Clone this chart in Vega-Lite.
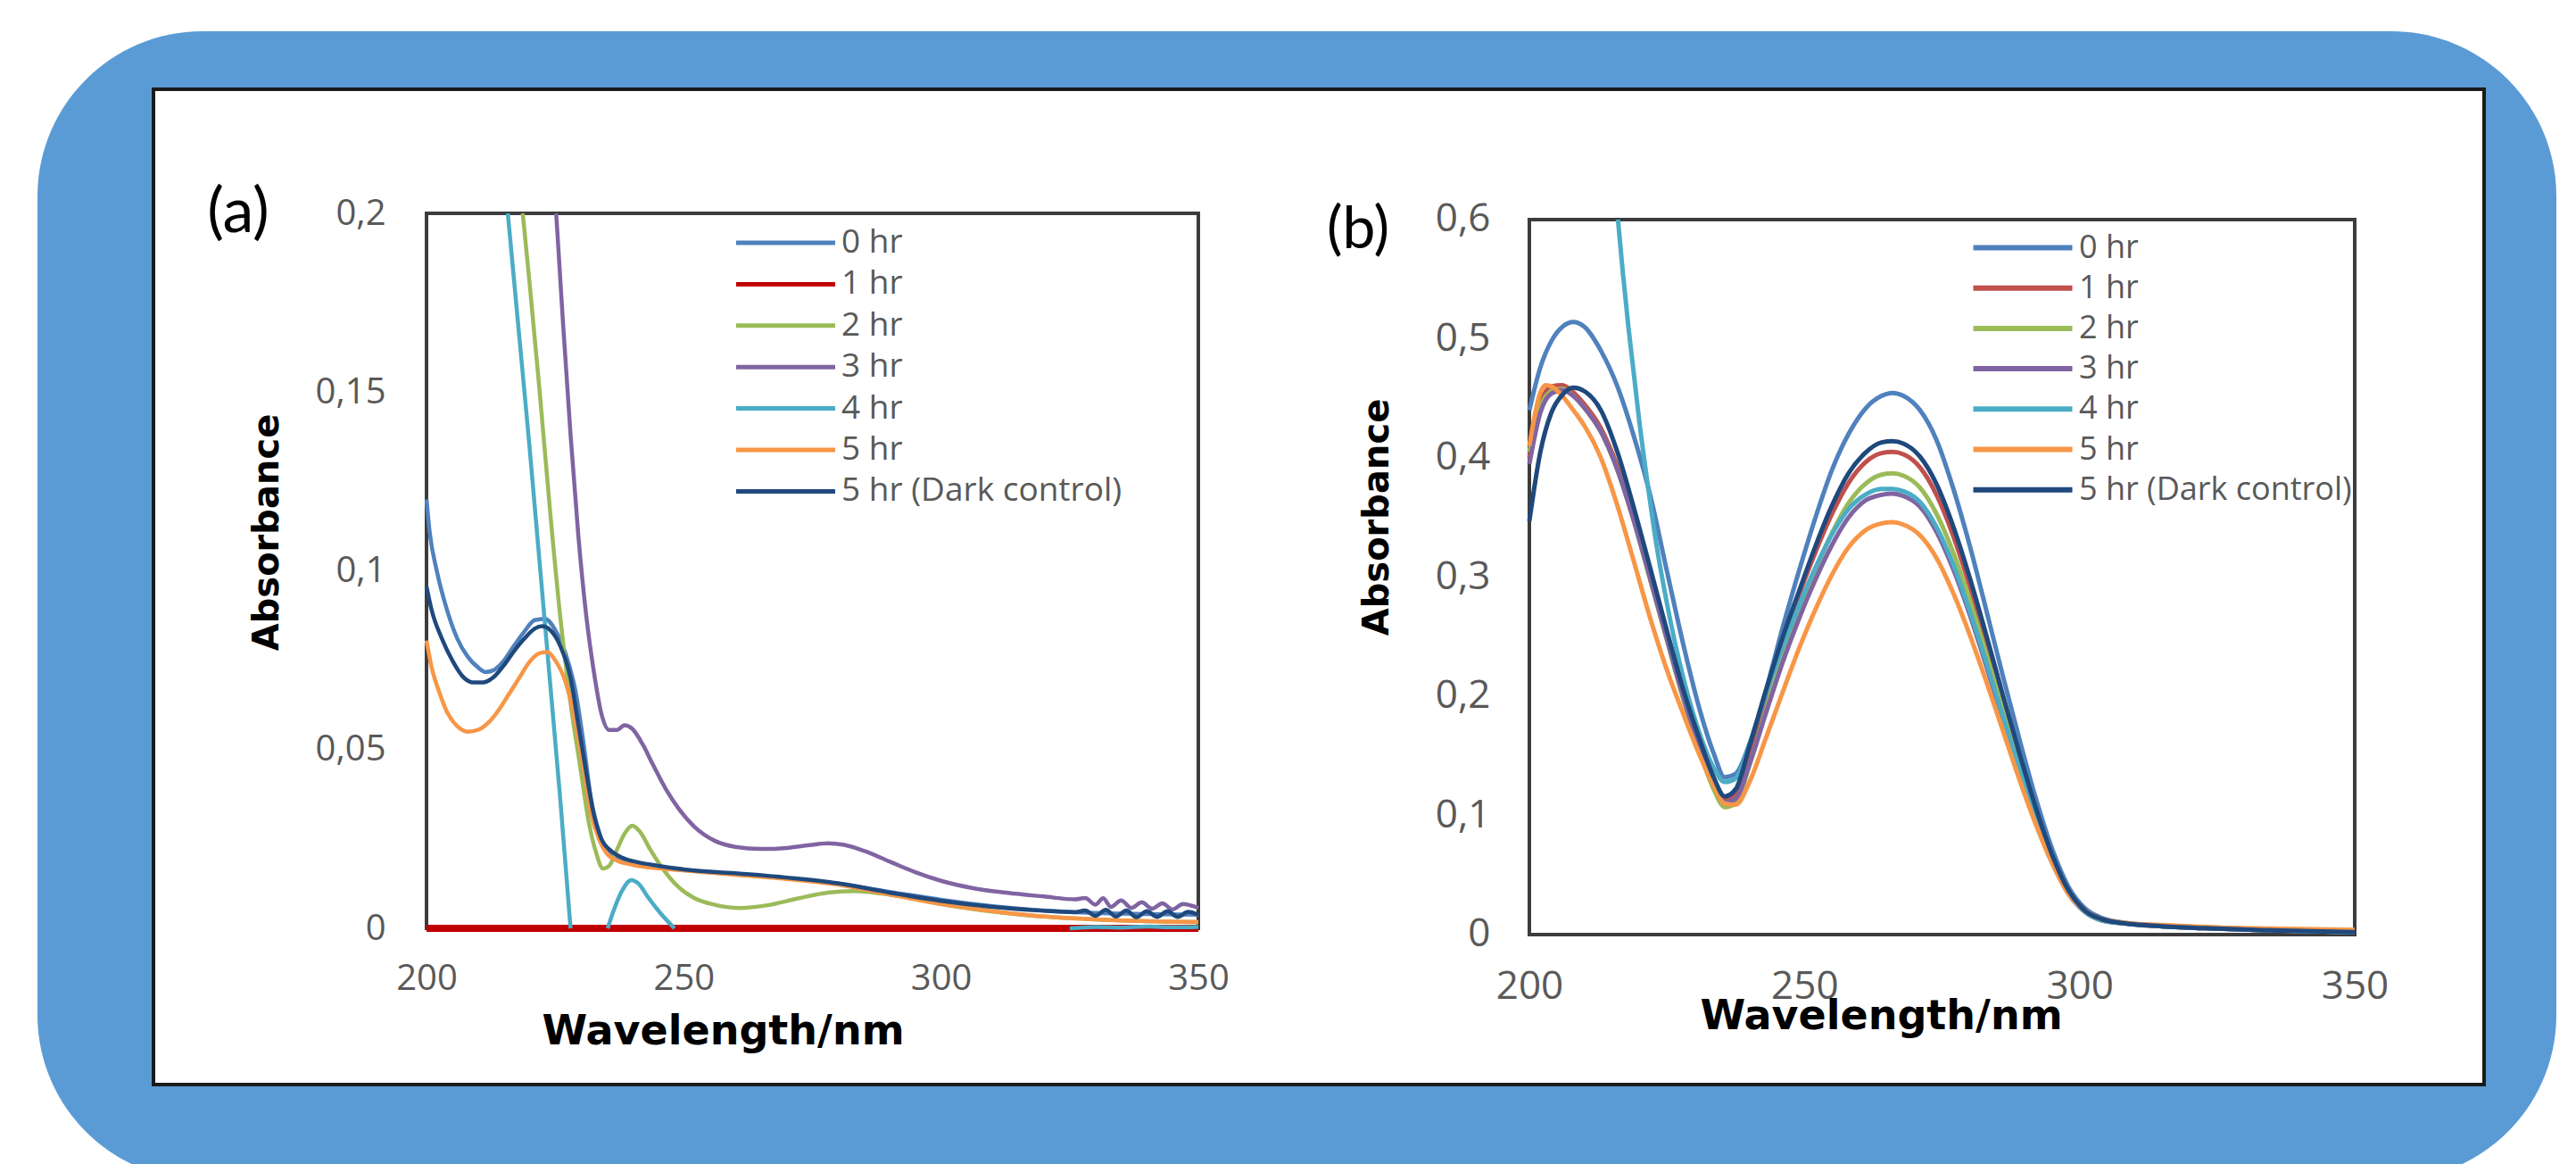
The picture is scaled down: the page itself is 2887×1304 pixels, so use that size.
{
"$schema": "https://vega.github.io/schema/vega-lite/v6.json",
"width": 2612, "height": 1115,
"autosize": {"type": "none"},
"padding": {"left": 172, "top": 100, "right": 103, "bottom": 89},
"background": "#ffffff",
"config": {"view": {"fill": null, "stroke": null}},
"datasets": {
"a": [
{"series":"1 hr","wavelength":200,"absorbance":0},{"series":"1 hr","wavelength":350,"absorbance":0},
{"series":"0 hr","wavelength":200,"absorbance":0.120},{"series":"0 hr","wavelength":200.6,"absorbance":0.111},{"series":"0 hr","wavelength":202,"absorbance":0.100},{"series":"0 hr","wavelength":204,"absorbance":0.089},{"series":"0 hr","wavelength":206,"absorbance":0.081},{"series":"0 hr","wavelength":208,"absorbance":0.076},{"series":"0 hr","wavelength":210,"absorbance":0.073},{"series":"0 hr","wavelength":211.5,"absorbance":0.0717},{"series":"0 hr","wavelength":213,"absorbance":0.0722},{"series":"0 hr","wavelength":215,"absorbance":0.0748},{"series":"0 hr","wavelength":217,"absorbance":0.079},{"series":"0 hr","wavelength":219,"absorbance":0.083},{"series":"0 hr","wavelength":221,"absorbance":0.0862},{"series":"0 hr","wavelength":223,"absorbance":0.0866},{"series":"0 hr","wavelength":225,"absorbance":0.0835},{"series":"0 hr","wavelength":227,"absorbance":0.077},{"series":"0 hr","wavelength":229,"absorbance":0.066},{"series":"0 hr","wavelength":230.5,"absorbance":0.052},{"series":"0 hr","wavelength":232,"absorbance":0.036},{"series":"0 hr","wavelength":233.5,"absorbance":0.027},{"series":"0 hr","wavelength":235,"absorbance":0.0215},{"series":"0 hr","wavelength":237,"absorbance":0.0195},{"series":"0 hr","wavelength":240,"absorbance":0.018},{"series":"0 hr","wavelength":245,"absorbance":0.017},{"series":"0 hr","wavelength":250,"absorbance":0.0163},{"series":"0 hr","wavelength":260,"absorbance":0.0152},{"series":"0 hr","wavelength":270,"absorbance":0.014},{"series":"0 hr","wavelength":280,"absorbance":0.0125},{"series":"0 hr","wavelength":290,"absorbance":0.0102},{"series":"0 hr","wavelength":300,"absorbance":0.008},{"series":"0 hr","wavelength":310,"absorbance":0.0062},{"series":"0 hr","wavelength":320,"absorbance":0.005},{"series":"0 hr","wavelength":330,"absorbance":0.0043},{"series":"0 hr","wavelength":340,"absorbance":0.004},{"series":"0 hr","wavelength":350,"absorbance":0.0038},
{"series":"2 hr","wavelength":218.7,"absorbance":0.2},{"series":"2 hr","wavelength":220,"absorbance":0.181},{"series":"2 hr","wavelength":222,"absorbance":0.150},{"series":"2 hr","wavelength":224,"absorbance":0.117},{"series":"2 hr","wavelength":226,"absorbance":0.087},{"series":"2 hr","wavelength":228,"absorbance":0.063},{"series":"2 hr","wavelength":230,"absorbance":0.044},{"series":"2 hr","wavelength":231.5,"absorbance":0.030},{"series":"2 hr","wavelength":233,"absorbance":0.021},{"series":"2 hr","wavelength":234.3,"absorbance":0.0167},{"series":"2 hr","wavelength":235.5,"absorbance":0.0175},{"series":"2 hr","wavelength":237,"absorbance":0.022},{"series":"2 hr","wavelength":238.5,"absorbance":0.0265},{"series":"2 hr","wavelength":240,"absorbance":0.0287},{"series":"2 hr","wavelength":241.5,"absorbance":0.027},{"series":"2 hr","wavelength":243.5,"absorbance":0.022},{"series":"2 hr","wavelength":246,"absorbance":0.0165},{"series":"2 hr","wavelength":249,"absorbance":0.0115},{"series":"2 hr","wavelength":252,"absorbance":0.0085},{"series":"2 hr","wavelength":256,"absorbance":0.0066},{"series":"2 hr","wavelength":261,"absorbance":0.0057},{"series":"2 hr","wavelength":266,"absorbance":0.0064},{"series":"2 hr","wavelength":272,"absorbance":0.0083},{"series":"2 hr","wavelength":278,"absorbance":0.010},{"series":"2 hr","wavelength":283,"absorbance":0.0104},{"series":"2 hr","wavelength":288,"absorbance":0.0098},{"series":"2 hr","wavelength":294,"absorbance":0.0085},{"series":"2 hr","wavelength":300,"absorbance":0.0068},{"series":"2 hr","wavelength":310,"absorbance":0.0047},{"series":"2 hr","wavelength":320,"absorbance":0.0033},{"series":"2 hr","wavelength":330,"absorbance":0.0025},{"series":"2 hr","wavelength":340,"absorbance":0.002},{"series":"2 hr","wavelength":350,"absorbance":0.0017},
{"series":"3 hr","wavelength":225.2,"absorbance":0.2},{"series":"3 hr","wavelength":226.5,"absorbance":0.170},{"series":"3 hr","wavelength":228,"absorbance":0.138},{"series":"3 hr","wavelength":229.5,"absorbance":0.110},{"series":"3 hr","wavelength":231,"absorbance":0.088},{"series":"3 hr","wavelength":232.5,"absorbance":0.072},{"series":"3 hr","wavelength":234,"absorbance":0.060},{"series":"3 hr","wavelength":235.5,"absorbance":0.0555},{"series":"3 hr","wavelength":237,"absorbance":0.0555},{"series":"3 hr","wavelength":238.5,"absorbance":0.0568},{"series":"3 hr","wavelength":240,"absorbance":0.0558},{"series":"3 hr","wavelength":242,"absorbance":0.0515},{"series":"3 hr","wavelength":244,"absorbance":0.0458},{"series":"3 hr","wavelength":246.5,"absorbance":0.039},{"series":"3 hr","wavelength":249,"absorbance":0.0335},{"series":"3 hr","wavelength":252,"absorbance":0.0285},{"series":"3 hr","wavelength":256,"absorbance":0.0245},{"series":"3 hr","wavelength":260,"absorbance":0.0228},{"series":"3 hr","wavelength":265,"absorbance":0.0222},{"series":"3 hr","wavelength":270,"absorbance":0.0225},{"series":"3 hr","wavelength":274,"absorbance":0.0232},{"series":"3 hr","wavelength":278,"absorbance":0.0238},{"series":"3 hr","wavelength":281,"absorbance":0.0234},{"series":"3 hr","wavelength":285,"absorbance":0.0217},{"series":"3 hr","wavelength":290,"absorbance":0.0187},{"series":"3 hr","wavelength":295,"absorbance":0.0157},{"series":"3 hr","wavelength":300,"absorbance":0.0133},{"series":"3 hr","wavelength":306,"absorbance":0.0113},{"series":"3 hr","wavelength":313,"absorbance":0.0099},{"series":"3 hr","wavelength":320,"absorbance":0.0089},{"series":"3 hr","wavelength":326,"absorbance":0.0081},{"series":"3 hr","wavelength":328,"absorbance":0.0085},{"series":"3 hr","wavelength":330,"absorbance":0.0066},{"series":"3 hr","wavelength":331.5,"absorbance":0.0084},{"series":"3 hr","wavelength":333,"absorbance":0.006},{"series":"3 hr","wavelength":335,"absorbance":0.0078},{"series":"3 hr","wavelength":337,"absorbance":0.0057},{"series":"3 hr","wavelength":339,"absorbance":0.0073},{"series":"3 hr","wavelength":341,"absorbance":0.0055},{"series":"3 hr","wavelength":343,"absorbance":0.007},{"series":"3 hr","wavelength":345,"absorbance":0.0053},{"series":"3 hr","wavelength":347,"absorbance":0.0068},{"series":"3 hr","wavelength":350,"absorbance":0.0057},
{"series":"4 hr","seg":1,"wavelength":215.8,"absorbance":0.2},{"series":"4 hr","seg":1,"wavelength":218,"absorbance":0.166},{"series":"4 hr","seg":1,"wavelength":220,"absorbance":0.135},{"series":"4 hr","seg":1,"wavelength":222,"absorbance":0.102},{"series":"4 hr","seg":1,"wavelength":224,"absorbance":0.069},{"series":"4 hr","seg":1,"wavelength":226,"absorbance":0.036},{"series":"4 hr","seg":1,"wavelength":228,"absorbance":0},
{"series":"4 hr","seg":2,"wavelength":235.2,"absorbance":0},{"series":"4 hr","seg":2,"wavelength":236.5,"absorbance":0.0055},{"series":"4 hr","seg":2,"wavelength":238,"absorbance":0.0105},{"series":"4 hr","seg":2,"wavelength":239.8,"absorbance":0.0135},{"series":"4 hr","seg":2,"wavelength":241.2,"absorbance":0.0125},{"series":"4 hr","seg":2,"wavelength":243,"absorbance":0.0088},{"series":"4 hr","seg":2,"wavelength":245.5,"absorbance":0.0042},{"series":"4 hr","seg":2,"wavelength":248.2,"absorbance":0},
{"series":"4 hr","seg":3,"wavelength":325,"absorbance":0},{"series":"4 hr","seg":3,"wavelength":330,"absorbance":0.0004},{"series":"4 hr","seg":3,"wavelength":335,"absorbance":0.0002},{"series":"4 hr","seg":3,"wavelength":340,"absorbance":0.0005},{"series":"4 hr","seg":3,"wavelength":345,"absorbance":0.0003},{"series":"4 hr","seg":3,"wavelength":350,"absorbance":0.0004},
{"series":"5 hr","wavelength":200,"absorbance":0.0805},{"series":"5 hr","wavelength":201,"absorbance":0.073},{"series":"5 hr","wavelength":202.5,"absorbance":0.066},{"series":"5 hr","wavelength":204,"absorbance":0.0605},{"series":"5 hr","wavelength":206,"absorbance":0.0565},{"series":"5 hr","wavelength":208,"absorbance":0.055},{"series":"5 hr","wavelength":210,"absorbance":0.0555},{"series":"5 hr","wavelength":212,"absorbance":0.0575},{"series":"5 hr","wavelength":214,"absorbance":0.061},{"series":"5 hr","wavelength":216,"absorbance":0.0655},{"series":"5 hr","wavelength":218,"absorbance":0.070},{"series":"5 hr","wavelength":220,"absorbance":0.0745},{"series":"5 hr","wavelength":222,"absorbance":0.077},{"series":"5 hr","wavelength":223.5,"absorbance":0.0773},{"series":"5 hr","wavelength":225,"absorbance":0.075},{"series":"5 hr","wavelength":227,"absorbance":0.069},{"series":"5 hr","wavelength":229,"absorbance":0.057},{"series":"5 hr","wavelength":230.5,"absorbance":0.045},{"series":"5 hr","wavelength":232,"absorbance":0.032},{"series":"5 hr","wavelength":233.5,"absorbance":0.025},{"series":"5 hr","wavelength":235,"absorbance":0.021},{"series":"5 hr","wavelength":237,"absorbance":0.019},{"series":"5 hr","wavelength":240,"absorbance":0.0178},{"series":"5 hr","wavelength":245,"absorbance":0.0168},{"series":"5 hr","wavelength":250,"absorbance":0.0162},{"series":"5 hr","wavelength":260,"absorbance":0.015},{"series":"5 hr","wavelength":270,"absorbance":0.0138},{"series":"5 hr","wavelength":280,"absorbance":0.0122},{"series":"5 hr","wavelength":290,"absorbance":0.0095},{"series":"5 hr","wavelength":300,"absorbance":0.0068},{"series":"5 hr","wavelength":310,"absorbance":0.0048},{"series":"5 hr","wavelength":320,"absorbance":0.0033},{"series":"5 hr","wavelength":330,"absorbance":0.0025},{"series":"5 hr","wavelength":340,"absorbance":0.002},{"series":"5 hr","wavelength":350,"absorbance":0.0018},
{"series":"5 hr (Dark control)","wavelength":200,"absorbance":0.0956},{"series":"5 hr (Dark control)","wavelength":201,"absorbance":0.089},{"series":"5 hr (Dark control)","wavelength":203,"absorbance":0.081},{"series":"5 hr (Dark control)","wavelength":205,"absorbance":0.075},{"series":"5 hr (Dark control)","wavelength":207,"absorbance":0.0705},{"series":"5 hr (Dark control)","wavelength":209,"absorbance":0.0688},{"series":"5 hr (Dark control)","wavelength":211,"absorbance":0.0688},{"series":"5 hr (Dark control)","wavelength":213,"absorbance":0.0702},{"series":"5 hr (Dark control)","wavelength":215,"absorbance":0.0735},{"series":"5 hr (Dark control)","wavelength":217,"absorbance":0.0775},{"series":"5 hr (Dark control)","wavelength":219,"absorbance":0.081},{"series":"5 hr (Dark control)","wavelength":221,"absorbance":0.0838},{"series":"5 hr (Dark control)","wavelength":222.5,"absorbance":0.0845},{"series":"5 hr (Dark control)","wavelength":224,"absorbance":0.0835},{"series":"5 hr (Dark control)","wavelength":226,"absorbance":0.079},{"series":"5 hr (Dark control)","wavelength":228,"absorbance":0.07},{"series":"5 hr (Dark control)","wavelength":229.5,"absorbance":0.057},{"series":"5 hr (Dark control)","wavelength":231,"absorbance":0.044},{"series":"5 hr (Dark control)","wavelength":232.5,"absorbance":0.032},{"series":"5 hr (Dark control)","wavelength":234,"absorbance":0.025},{"series":"5 hr (Dark control)","wavelength":236,"absorbance":0.0215},{"series":"5 hr (Dark control)","wavelength":238,"absorbance":0.0198},{"series":"5 hr (Dark control)","wavelength":241,"absorbance":0.0185},{"series":"5 hr (Dark control)","wavelength":245,"absorbance":0.0175},{"series":"5 hr (Dark control)","wavelength":250,"absorbance":0.0165},{"series":"5 hr (Dark control)","wavelength":260,"absorbance":0.0154},{"series":"5 hr (Dark control)","wavelength":270,"absorbance":0.0142},{"series":"5 hr (Dark control)","wavelength":280,"absorbance":0.0126},{"series":"5 hr (Dark control)","wavelength":290,"absorbance":0.01},{"series":"5 hr (Dark control)","wavelength":300,"absorbance":0.0077},{"series":"5 hr (Dark control)","wavelength":310,"absorbance":0.006},{"series":"5 hr (Dark control)","wavelength":320,"absorbance":0.0049},{"series":"5 hr (Dark control)","wavelength":326,"absorbance":0.0045},{"series":"5 hr (Dark control)","wavelength":328,"absorbance":0.005},{"series":"5 hr (Dark control)","wavelength":330,"absorbance":0.0035},{"series":"5 hr (Dark control)","wavelength":332,"absorbance":0.0052},{"series":"5 hr (Dark control)","wavelength":334,"absorbance":0.0033},{"series":"5 hr (Dark control)","wavelength":336,"absorbance":0.005},{"series":"5 hr (Dark control)","wavelength":338,"absorbance":0.0031},{"series":"5 hr (Dark control)","wavelength":340,"absorbance":0.0048},{"series":"5 hr (Dark control)","wavelength":342,"absorbance":0.0032},{"series":"5 hr (Dark control)","wavelength":344,"absorbance":0.0048},{"series":"5 hr (Dark control)","wavelength":346,"absorbance":0.0032},{"series":"5 hr (Dark control)","wavelength":348,"absorbance":0.0046},{"series":"5 hr (Dark control)","wavelength":350,"absorbance":0.0038}
],
"b": [
{"series":"0 hr","wavelength":200,"absorbance":0.440},{"series":"0 hr","wavelength":202,"absorbance":0.476},{"series":"0 hr","wavelength":204,"absorbance":0.498},{"series":"0 hr","wavelength":206,"absorbance":0.510},{"series":"0 hr","wavelength":208,"absorbance":0.514},{"series":"0 hr","wavelength":210,"absorbance":0.510},{"series":"0 hr","wavelength":213,"absorbance":0.490},{"series":"0 hr","wavelength":216,"absorbance":0.460},{"series":"0 hr","wavelength":219,"absorbance":0.418},{"series":"0 hr","wavelength":222,"absorbance":0.368},{"series":"0 hr","wavelength":225,"absorbance":0.305},{"series":"0 hr","wavelength":228,"absorbance":0.243},{"series":"0 hr","wavelength":231,"absorbance":0.188},{"series":"0 hr","wavelength":233.5,"absorbance":0.152},{"series":"0 hr","wavelength":235.5,"absorbance":0.132},{"series":"0 hr","wavelength":237.5,"absorbance":0.135},{"series":"0 hr","wavelength":240,"absorbance":0.160},{"series":"0 hr","wavelength":243,"absorbance":0.205},{"series":"0 hr","wavelength":246,"absorbance":0.257},{"series":"0 hr","wavelength":249,"absorbance":0.305},{"series":"0 hr","wavelength":252,"absorbance":0.350},{"series":"0 hr","wavelength":255,"absorbance":0.390},{"series":"0 hr","wavelength":258,"absorbance":0.420},{"series":"0 hr","wavelength":261,"absorbance":0.441},{"series":"0 hr","wavelength":264,"absorbance":0.452},{"series":"0 hr","wavelength":266,"absorbance":0.4545},{"series":"0 hr","wavelength":268,"absorbance":0.452},{"series":"0 hr","wavelength":271,"absorbance":0.440},{"series":"0 hr","wavelength":274,"absorbance":0.415},{"series":"0 hr","wavelength":277,"absorbance":0.375},{"series":"0 hr","wavelength":280,"absorbance":0.327},{"series":"0 hr","wavelength":283,"absorbance":0.273},{"series":"0 hr","wavelength":286,"absorbance":0.218},{"series":"0 hr","wavelength":289,"absorbance":0.165},{"series":"0 hr","wavelength":292,"absorbance":0.115},{"series":"0 hr","wavelength":295,"absorbance":0.072},{"series":"0 hr","wavelength":298,"absorbance":0.040},{"series":"0 hr","wavelength":301,"absorbance":0.022},{"series":"0 hr","wavelength":304,"absorbance":0.014},{"series":"0 hr","wavelength":308,"absorbance":0.010},{"series":"0 hr","wavelength":315,"absorbance":0.0075},{"series":"0 hr","wavelength":325,"absorbance":0.0058},{"series":"0 hr","wavelength":335,"absorbance":0.0042},{"series":"0 hr","wavelength":350,"absorbance":0.0025},
{"series":"1 hr","wavelength":200,"absorbance":0.400},{"series":"1 hr","wavelength":202,"absorbance":0.445},{"series":"1 hr","wavelength":204,"absorbance":0.460},{"series":"1 hr","wavelength":206,"absorbance":0.461},{"series":"1 hr","wavelength":208,"absorbance":0.455},{"series":"1 hr","wavelength":210,"absorbance":0.445},{"series":"1 hr","wavelength":213,"absorbance":0.425},{"series":"1 hr","wavelength":216,"absorbance":0.393},{"series":"1 hr","wavelength":219,"absorbance":0.350},{"series":"1 hr","wavelength":222,"absorbance":0.300},{"series":"1 hr","wavelength":225,"absorbance":0.250},{"series":"1 hr","wavelength":228,"absorbance":0.200},{"series":"1 hr","wavelength":231,"absorbance":0.158},{"series":"1 hr","wavelength":233.5,"absorbance":0.128},{"series":"1 hr","wavelength":235.5,"absorbance":0.113},{"series":"1 hr","wavelength":237.5,"absorbance":0.117},{"series":"1 hr","wavelength":240,"absorbance":0.152},{"series":"1 hr","wavelength":243,"absorbance":0.200},{"series":"1 hr","wavelength":246,"absorbance":0.245},{"series":"1 hr","wavelength":249,"absorbance":0.285},{"series":"1 hr","wavelength":252,"absorbance":0.321},{"series":"1 hr","wavelength":255,"absorbance":0.353},{"series":"1 hr","wavelength":258,"absorbance":0.379},{"series":"1 hr","wavelength":261,"absorbance":0.396},{"series":"1 hr","wavelength":264,"absorbance":0.404},{"series":"1 hr","wavelength":266,"absorbance":0.405},{"series":"1 hr","wavelength":268,"absorbance":0.403},{"series":"1 hr","wavelength":271,"absorbance":0.392},{"series":"1 hr","wavelength":274,"absorbance":0.369},{"series":"1 hr","wavelength":277,"absorbance":0.335},{"series":"1 hr","wavelength":280,"absorbance":0.293},{"series":"1 hr","wavelength":283,"absorbance":0.246},{"series":"1 hr","wavelength":286,"absorbance":0.197},{"series":"1 hr","wavelength":289,"absorbance":0.149},{"series":"1 hr","wavelength":292,"absorbance":0.104},{"series":"1 hr","wavelength":295,"absorbance":0.065},{"series":"1 hr","wavelength":298,"absorbance":0.036},{"series":"1 hr","wavelength":301,"absorbance":0.020},{"series":"1 hr","wavelength":304,"absorbance":0.013},{"series":"1 hr","wavelength":308,"absorbance":0.0095},{"series":"1 hr","wavelength":315,"absorbance":0.007},{"series":"1 hr","wavelength":325,"absorbance":0.005},{"series":"1 hr","wavelength":335,"absorbance":0.0035},{"series":"1 hr","wavelength":350,"absorbance":0.002},
{"series":"2 hr","wavelength":200,"absorbance":0.405},{"series":"2 hr","wavelength":202,"absorbance":0.443},{"series":"2 hr","wavelength":204,"absorbance":0.456},{"series":"2 hr","wavelength":206,"absorbance":0.458},{"series":"2 hr","wavelength":208,"absorbance":0.452},{"series":"2 hr","wavelength":210,"absorbance":0.442},{"series":"2 hr","wavelength":213,"absorbance":0.422},{"series":"2 hr","wavelength":216,"absorbance":0.390},{"series":"2 hr","wavelength":219,"absorbance":0.347},{"series":"2 hr","wavelength":222,"absorbance":0.297},{"series":"2 hr","wavelength":225,"absorbance":0.247},{"series":"2 hr","wavelength":228,"absorbance":0.197},{"series":"2 hr","wavelength":231,"absorbance":0.153},{"series":"2 hr","wavelength":233.5,"absorbance":0.122},{"series":"2 hr","wavelength":235.5,"absorbance":0.107},{"series":"2 hr","wavelength":237.5,"absorbance":0.110},{"series":"2 hr","wavelength":240,"absorbance":0.142},{"series":"2 hr","wavelength":243,"absorbance":0.188},{"series":"2 hr","wavelength":246,"absorbance":0.232},{"series":"2 hr","wavelength":249,"absorbance":0.270},{"series":"2 hr","wavelength":252,"absorbance":0.306},{"series":"2 hr","wavelength":255,"absorbance":0.337},{"series":"2 hr","wavelength":258,"absorbance":0.362},{"series":"2 hr","wavelength":261,"absorbance":0.378},{"series":"2 hr","wavelength":264,"absorbance":0.386},{"series":"2 hr","wavelength":266,"absorbance":0.387},{"series":"2 hr","wavelength":268,"absorbance":0.385},{"series":"2 hr","wavelength":271,"absorbance":0.375},{"series":"2 hr","wavelength":274,"absorbance":0.353},{"series":"2 hr","wavelength":277,"absorbance":0.321},{"series":"2 hr","wavelength":280,"absorbance":0.281},{"series":"2 hr","wavelength":283,"absorbance":0.236},{"series":"2 hr","wavelength":286,"absorbance":0.189},{"series":"2 hr","wavelength":289,"absorbance":0.143},{"series":"2 hr","wavelength":292,"absorbance":0.100},{"series":"2 hr","wavelength":295,"absorbance":0.063},{"series":"2 hr","wavelength":298,"absorbance":0.035},{"series":"2 hr","wavelength":301,"absorbance":0.019},{"series":"2 hr","wavelength":304,"absorbance":0.012},{"series":"2 hr","wavelength":308,"absorbance":0.0095},{"series":"2 hr","wavelength":315,"absorbance":0.007},{"series":"2 hr","wavelength":325,"absorbance":0.005},{"series":"2 hr","wavelength":335,"absorbance":0.0035},{"series":"2 hr","wavelength":350,"absorbance":0.002},
{"series":"3 hr","wavelength":200,"absorbance":0.395},{"series":"3 hr","wavelength":202,"absorbance":0.438},{"series":"3 hr","wavelength":204,"absorbance":0.454},{"series":"3 hr","wavelength":206,"absorbance":0.457},{"series":"3 hr","wavelength":208,"absorbance":0.452},{"series":"3 hr","wavelength":210,"absorbance":0.442},{"series":"3 hr","wavelength":213,"absorbance":0.422},{"series":"3 hr","wavelength":216,"absorbance":0.390},{"series":"3 hr","wavelength":219,"absorbance":0.347},{"series":"3 hr","wavelength":222,"absorbance":0.298},{"series":"3 hr","wavelength":225,"absorbance":0.248},{"series":"3 hr","wavelength":228,"absorbance":0.199},{"series":"3 hr","wavelength":231,"absorbance":0.156},{"series":"3 hr","wavelength":233.5,"absorbance":0.126},{"series":"3 hr","wavelength":235.5,"absorbance":0.111},{"series":"3 hr","wavelength":237.5,"absorbance":0.114},{"series":"3 hr","wavelength":240,"absorbance":0.143},{"series":"3 hr","wavelength":243,"absorbance":0.186},{"series":"3 hr","wavelength":246,"absorbance":0.228},{"series":"3 hr","wavelength":249,"absorbance":0.265},{"series":"3 hr","wavelength":252,"absorbance":0.298},{"series":"3 hr","wavelength":255,"absorbance":0.327},{"series":"3 hr","wavelength":258,"absorbance":0.350},{"series":"3 hr","wavelength":261,"absorbance":0.364},{"series":"3 hr","wavelength":264,"absorbance":0.369},{"series":"3 hr","wavelength":266,"absorbance":0.370},{"series":"3 hr","wavelength":268,"absorbance":0.368},{"series":"3 hr","wavelength":271,"absorbance":0.359},{"series":"3 hr","wavelength":274,"absorbance":0.338},{"series":"3 hr","wavelength":277,"absorbance":0.307},{"series":"3 hr","wavelength":280,"absorbance":0.269},{"series":"3 hr","wavelength":283,"absorbance":0.226},{"series":"3 hr","wavelength":286,"absorbance":0.181},{"series":"3 hr","wavelength":289,"absorbance":0.137},{"series":"3 hr","wavelength":292,"absorbance":0.096},{"series":"3 hr","wavelength":295,"absorbance":0.061},{"series":"3 hr","wavelength":298,"absorbance":0.034},{"series":"3 hr","wavelength":301,"absorbance":0.019},{"series":"3 hr","wavelength":304,"absorbance":0.012},{"series":"3 hr","wavelength":308,"absorbance":0.0095},{"series":"3 hr","wavelength":315,"absorbance":0.007},{"series":"3 hr","wavelength":325,"absorbance":0.005},{"series":"3 hr","wavelength":335,"absorbance":0.0035},{"series":"3 hr","wavelength":350,"absorbance":0.002},
{"series":"4 hr","wavelength":216.1,"absorbance":0.6},{"series":"4 hr","wavelength":217,"absorbance":0.555},{"series":"4 hr","wavelength":218,"absorbance":0.51},{"series":"4 hr","wavelength":219,"absorbance":0.47},{"series":"4 hr","wavelength":220,"absorbance":0.43},{"series":"4 hr","wavelength":221.5,"absorbance":0.378},{"series":"4 hr","wavelength":223,"absorbance":0.33},{"series":"4 hr","wavelength":225,"absorbance":0.278},{"series":"4 hr","wavelength":228,"absorbance":0.215},{"series":"4 hr","wavelength":231,"absorbance":0.168},{"series":"4 hr","wavelength":233.5,"absorbance":0.140},{"series":"4 hr","wavelength":235.5,"absorbance":0.128},{"series":"4 hr","wavelength":237.5,"absorbance":0.131},{"series":"4 hr","wavelength":240,"absorbance":0.160},{"series":"4 hr","wavelength":243,"absorbance":0.202},{"series":"4 hr","wavelength":246,"absorbance":0.241},{"series":"4 hr","wavelength":249,"absorbance":0.276},{"series":"4 hr","wavelength":252,"absorbance":0.308},{"series":"4 hr","wavelength":255,"absorbance":0.336},{"series":"4 hr","wavelength":258,"absorbance":0.357},{"series":"4 hr","wavelength":261,"absorbance":0.369},{"series":"4 hr","wavelength":264,"absorbance":0.374},{"series":"4 hr","wavelength":266,"absorbance":0.374},{"series":"4 hr","wavelength":268,"absorbance":0.372},{"series":"4 hr","wavelength":271,"absorbance":0.363},{"series":"4 hr","wavelength":274,"absorbance":0.342},{"series":"4 hr","wavelength":277,"absorbance":0.311},{"series":"4 hr","wavelength":280,"absorbance":0.272},{"series":"4 hr","wavelength":283,"absorbance":0.229},{"series":"4 hr","wavelength":286,"absorbance":0.184},{"series":"4 hr","wavelength":289,"absorbance":0.140},{"series":"4 hr","wavelength":292,"absorbance":0.099},{"series":"4 hr","wavelength":295,"absorbance":0.063},{"series":"4 hr","wavelength":298,"absorbance":0.035},{"series":"4 hr","wavelength":301,"absorbance":0.019},{"series":"4 hr","wavelength":304,"absorbance":0.012},{"series":"4 hr","wavelength":308,"absorbance":0.0095},{"series":"4 hr","wavelength":315,"absorbance":0.007},{"series":"4 hr","wavelength":325,"absorbance":0.005},{"series":"4 hr","wavelength":335,"absorbance":0.0035},{"series":"4 hr","wavelength":350,"absorbance":0.002},
{"series":"5 hr","wavelength":200,"absorbance":0.410},{"series":"5 hr","wavelength":202,"absorbance":0.455},{"series":"5 hr","wavelength":203,"absorbance":0.461},{"series":"5 hr","wavelength":204,"absorbance":0.460},{"series":"5 hr","wavelength":206,"absorbance":0.452},{"series":"5 hr","wavelength":208,"absorbance":0.440},{"series":"5 hr","wavelength":210,"absorbance":0.427},{"series":"5 hr","wavelength":213,"absorbance":0.400},{"series":"5 hr","wavelength":216,"absorbance":0.360},{"series":"5 hr","wavelength":219,"absorbance":0.313},{"series":"5 hr","wavelength":222,"absorbance":0.265},{"series":"5 hr","wavelength":225,"absorbance":0.222},{"series":"5 hr","wavelength":228,"absorbance":0.185},{"series":"5 hr","wavelength":231,"absorbance":0.150},{"series":"5 hr","wavelength":233.5,"absorbance":0.125},{"series":"5 hr","wavelength":235.5,"absorbance":0.110},{"series":"5 hr","wavelength":237.5,"absorbance":0.109},{"series":"5 hr","wavelength":240,"absorbance":0.128},{"series":"5 hr","wavelength":243,"absorbance":0.165},{"series":"5 hr","wavelength":246,"absorbance":0.203},{"series":"5 hr","wavelength":249,"absorbance":0.240},{"series":"5 hr","wavelength":252,"absorbance":0.273},{"series":"5 hr","wavelength":255,"absorbance":0.302},{"series":"5 hr","wavelength":258,"absorbance":0.325},{"series":"5 hr","wavelength":261,"absorbance":0.339},{"series":"5 hr","wavelength":264,"absorbance":0.345},{"series":"5 hr","wavelength":266,"absorbance":0.346},{"series":"5 hr","wavelength":268,"absorbance":0.344},{"series":"5 hr","wavelength":271,"absorbance":0.335},{"series":"5 hr","wavelength":274,"absorbance":0.316},{"series":"5 hr","wavelength":277,"absorbance":0.287},{"series":"5 hr","wavelength":280,"absorbance":0.252},{"series":"5 hr","wavelength":283,"absorbance":0.213},{"series":"5 hr","wavelength":286,"absorbance":0.172},{"series":"5 hr","wavelength":289,"absorbance":0.131},{"series":"5 hr","wavelength":292,"absorbance":0.093},{"series":"5 hr","wavelength":295,"absorbance":0.060},{"series":"5 hr","wavelength":298,"absorbance":0.034},{"series":"5 hr","wavelength":301,"absorbance":0.020},{"series":"5 hr","wavelength":304,"absorbance":0.013},{"series":"5 hr","wavelength":308,"absorbance":0.010},{"series":"5 hr","wavelength":315,"absorbance":0.008},{"series":"5 hr","wavelength":325,"absorbance":0.006},{"series":"5 hr","wavelength":335,"absorbance":0.005},{"series":"5 hr","wavelength":350,"absorbance":0.004},
{"series":"5 hr (Dark control)","wavelength":200,"absorbance":0.347},{"series":"5 hr (Dark control)","wavelength":202,"absorbance":0.405},{"series":"5 hr (Dark control)","wavelength":204,"absorbance":0.438},{"series":"5 hr (Dark control)","wavelength":206,"absorbance":0.453},{"series":"5 hr (Dark control)","wavelength":208,"absorbance":0.459},{"series":"5 hr (Dark control)","wavelength":210,"absorbance":0.456},{"series":"5 hr (Dark control)","wavelength":213,"absorbance":0.440},{"series":"5 hr (Dark control)","wavelength":216,"absorbance":0.405},{"series":"5 hr (Dark control)","wavelength":219,"absorbance":0.358},{"series":"5 hr (Dark control)","wavelength":222,"absorbance":0.307},{"series":"5 hr (Dark control)","wavelength":225,"absorbance":0.255},{"series":"5 hr (Dark control)","wavelength":228,"absorbance":0.205},{"series":"5 hr (Dark control)","wavelength":231,"absorbance":0.163},{"series":"5 hr (Dark control)","wavelength":233.5,"absorbance":0.132},{"series":"5 hr (Dark control)","wavelength":235.5,"absorbance":0.116},{"series":"5 hr (Dark control)","wavelength":237.5,"absorbance":0.122},{"series":"5 hr (Dark control)","wavelength":240,"absorbance":0.158},{"series":"5 hr (Dark control)","wavelength":243,"absorbance":0.205},{"series":"5 hr (Dark control)","wavelength":246,"absorbance":0.249},{"series":"5 hr (Dark control)","wavelength":249,"absorbance":0.288},{"series":"5 hr (Dark control)","wavelength":252,"absorbance":0.326},{"series":"5 hr (Dark control)","wavelength":255,"absorbance":0.360},{"series":"5 hr (Dark control)","wavelength":258,"absorbance":0.387},{"series":"5 hr (Dark control)","wavelength":261,"absorbance":0.404},{"series":"5 hr (Dark control)","wavelength":264,"absorbance":0.413},{"series":"5 hr (Dark control)","wavelength":266,"absorbance":0.414},{"series":"5 hr (Dark control)","wavelength":268,"absorbance":0.412},{"series":"5 hr (Dark control)","wavelength":271,"absorbance":0.401},{"series":"5 hr (Dark control)","wavelength":274,"absorbance":0.378},{"series":"5 hr (Dark control)","wavelength":277,"absorbance":0.343},{"series":"5 hr (Dark control)","wavelength":280,"absorbance":0.300},{"series":"5 hr (Dark control)","wavelength":283,"absorbance":0.252},{"series":"5 hr (Dark control)","wavelength":286,"absorbance":0.202},{"series":"5 hr (Dark control)","wavelength":289,"absorbance":0.153},{"series":"5 hr (Dark control)","wavelength":292,"absorbance":0.107},{"series":"5 hr (Dark control)","wavelength":295,"absorbance":0.067},{"series":"5 hr (Dark control)","wavelength":298,"absorbance":0.037},{"series":"5 hr (Dark control)","wavelength":301,"absorbance":0.020},{"series":"5 hr (Dark control)","wavelength":304,"absorbance":0.013},{"series":"5 hr (Dark control)","wavelength":308,"absorbance":0.0095},{"series":"5 hr (Dark control)","wavelength":315,"absorbance":0.007},{"series":"5 hr (Dark control)","wavelength":325,"absorbance":0.005},{"series":"5 hr (Dark control)","wavelength":335,"absorbance":0.0035},{"series":"5 hr (Dark control)","wavelength":350,"absorbance":0.002}
]
},
"layer": [
{
"layer": [
{
"data": {"values": [{}]},
"mark": {"type": "rect", "fill": "#5B9BD5", "stroke": null, "cornerRadius": 185, "clip": false},
"encoding": {
"x": {"datum": 124.393, "type": "quantitative"}, "x2": {"datum": 613.929},
"y": {"datum": 0.250937, "type": "quantitative"}, "y2": {"datum": -0.070412}
}
},
{
"data": {"values": [{}]},
"mark": {"type": "rect", "fill": "#ffffff", "stroke": "#1a1a1a", "strokeWidth": 4},
"encoding": {
"x": {"datum": 146.936, "type": "quantitative"}, "x2": {"datum": 599.884},
"y": {"datum": -0.043695, "type": "quantitative"}, "y2": {"datum": 0.234707}
}
},
{
"data": {"values": [{}]},
"mark": {"type": "rect", "fill": null, "stroke": "#3c3c3c", "strokeWidth": 4},
"encoding": {
"x": {"datum": 200, "type": "quantitative"}, "x2": {"datum": 350},
"y": {"datum": 0, "type": "quantitative"}, "y2": {"datum": 0.2}
}
},
{
"data": {"values": [{}]},
"mark": {"type": "text", "text": "(a)", "font": "Lato", "fontSize": 70, "color": "#000000", "align": "center", "baseline": "middle"},
"encoding": {
"x": {"datum": 163.4, "type": "quantitative"},
"y": {"datum": 0.2, "type": "quantitative"}
}
},
{
"data": {"name": "a"},
"transform": [{"filter": "datum.series === '1 hr'"}],
"mark": {"type": "line", "strokeWidth": 8, "interpolate": "monotone"},
"encoding": {
"x": {"field": "wavelength", "type": "quantitative"},
"y": {"field": "absorbance", "type": "quantitative"},
"color": {"field": "series", "type": "nominal"}
}
},
{
"data": {"name": "a"},
"transform": [{"filter": "datum.series !== '1 hr'"}],
"mark": {"type": "line", "strokeWidth": 4.5, "interpolate": "monotone"},
"encoding": {
"x": {"field": "wavelength", "type": "quantitative",
 "scale": {"domain": [146.936, 599.884], "nice": false, "zero": false},
 "axis": {"zindex": 1, "orient": "bottom", "offset": -175, "values": [200, 250, 300, 350], "domain": false, "ticks": false, "grid": false, "labelFont": "Open Sans", "labelFontSize": 40, "labelColor": "#595959", "labelPadding": 36, "labelFlush": false, "labelOverlap": false, "title": "Wavelength/nm", "titleFont": "DejaVu Sans", "titleFontSize": 46, "titleFontWeight": "bold", "titleColor": "#000000", "titleX": 638, "titleY": 129, "titleBaseline": "alphabetic", "titleAlign": "center"}},
"y": {"field": "absorbance", "type": "quantitative",
 "scale": {"domain": [-0.043695, 0.234707], "nice": false, "zero": false},
 "axis": {"zindex": 1, "orient": "left", "offset": -306, "values": [0, 0.05, 0.1, 0.15, 0.2], "format": ".2~f", "labelExpr": "replace(datum.label, '.', ',')", "domain": false, "ticks": false, "grid": false, "labelFont": "Open Sans", "labelFontSize": 40, "labelColor": "#595959", "labelPadding": 46, "labelFlush": false, "labelOverlap": false, "title": "Absorbance", "titleFont": "DejaVu Sans", "titleFontSize": 40, "titleFontWeight": "bold", "titleColor": "#000000", "titleX": -167, "titleY": 496, "titleAngle": -90, "titleBaseline": "alphabetic", "titleAlign": "center"}},
"color": {"field": "series", "type": "nominal",
 "scale": {"domain": ["0 hr", "1 hr", "2 hr", "3 hr", "4 hr", "5 hr", "5 hr (Dark control)"], "range": ["#4F81BD", "#C00000", "#9BBB59", "#8064A2", "#4BACC6", "#F79646", "#1F497D"]},
 "legend": {"title": null, "orient": "none", "legendX": 650.5, "legendY": 150, "direction": "vertical", "symbolType": "stroke", "symbolSize": 12321, "symbolStrokeWidth": 5, "clipHeight": 44, "rowPadding": 2.4, "padding": 0, "labelFont": "Open Sans", "labelFontSize": 37, "labelColor": "#595959", "labelOffset": 4.5, "symbolOffset": 0, "labelLimit": 700}},
"detail": {"field": "seg"}
}
}
]
},
{
"layer": [
{
"data": {"values": [{}]},
"mark": {"type": "rect", "fill": null, "stroke": "#3c3c3c", "strokeWidth": 4},
"encoding": {
"x": {"datum": 200, "type": "quantitative"}, "x2": {"datum": 350},
"y": {"datum": 0, "type": "quantitative"}, "y2": {"datum": 0.6}
}
},
{
"data": {"values": [{}]},
"mark": {"type": "text", "text": "(b)", "font": "Lato", "fontSize": 66, "color": "#000000", "align": "center", "baseline": "middle"},
"encoding": {
"x": {"datum": 168.87, "type": "quantitative"},
"y": {"datum": 0.591, "type": "quantitative"}
}
},
{
"data": {"name": "b"},
"mark": {"type": "line", "strokeWidth": 5, "interpolate": "monotone"},
"encoding": {
"x": {"field": "wavelength", "type": "quantitative",
 "scale": {"domain": [-50.054, 373.514], "nice": false, "zero": false},
 "axis": {"zindex": 1, "orient": "bottom", "offset": -168, "values": [200, 250, 300, 350], "domain": false, "ticks": false, "grid": false, "labelFont": "Open Sans", "labelFontSize": 44, "labelColor": "#595959", "labelPadding": 36, "labelFlush": false, "labelOverlap": false, "title": "Wavelength/nm", "titleFont": "DejaVu Sans", "titleFontSize": 46, "titleFontWeight": "bold", "titleColor": "#000000", "titleX": 1936, "titleY": 105, "titleBaseline": "alphabetic", "titleAlign": "center"}},
"y": {"field": "absorbance", "type": "quantitative",
 "scale": {"domain": [-0.125843, 0.709363], "nice": false, "zero": false},
 "axis": {"zindex": 1, "orient": "left", "offset": -1542, "values": [0, 0.1, 0.2, 0.3, 0.4, 0.5, 0.6], "format": ".1~f", "labelExpr": "replace(datum.label, '.', ',')", "domain": false, "ticks": false, "grid": false, "labelFont": "Open Sans", "labelFontSize": 44, "labelColor": "#595959", "labelPadding": 44, "labelFlush": false, "labelOverlap": false, "title": "Absorbance", "titleFont": "DejaVu Sans", "titleFontSize": 40, "titleFontWeight": "bold", "titleColor": "#000000", "titleX": -159, "titleY": 479, "titleAngle": -90, "titleBaseline": "alphabetic", "titleAlign": "center"}},
"color": {"field": "series", "type": "nominal",
 "scale": {"domain": ["0 hr", "1 hr", "2 hr", "3 hr", "4 hr", "5 hr", "5 hr (Dark control)"], "range": ["#4F81BD", "#C0504D", "#9BBB59", "#8064A2", "#4BACC6", "#F79646", "#1F497D"]},
 "legend": {"title": null, "orient": "none", "legendX": 2036.5, "legendY": 155.5, "direction": "vertical", "symbolType": "stroke", "symbolSize": 12321, "symbolStrokeWidth": 6, "clipHeight": 44, "rowPadding": 1.2, "padding": 0, "labelFont": "Open Sans", "labelFontSize": 36, "labelColor": "#595959", "labelOffset": 4.5, "symbolOffset": 0, "labelLimit": 700}}
}
}
]
}
],
"resolve": {"scale": {"x": "independent", "y": "independent", "color": "independent"}, "axis": {"x": "independent", "y": "independent"}, "legend": {"color": "independent"}}
}
